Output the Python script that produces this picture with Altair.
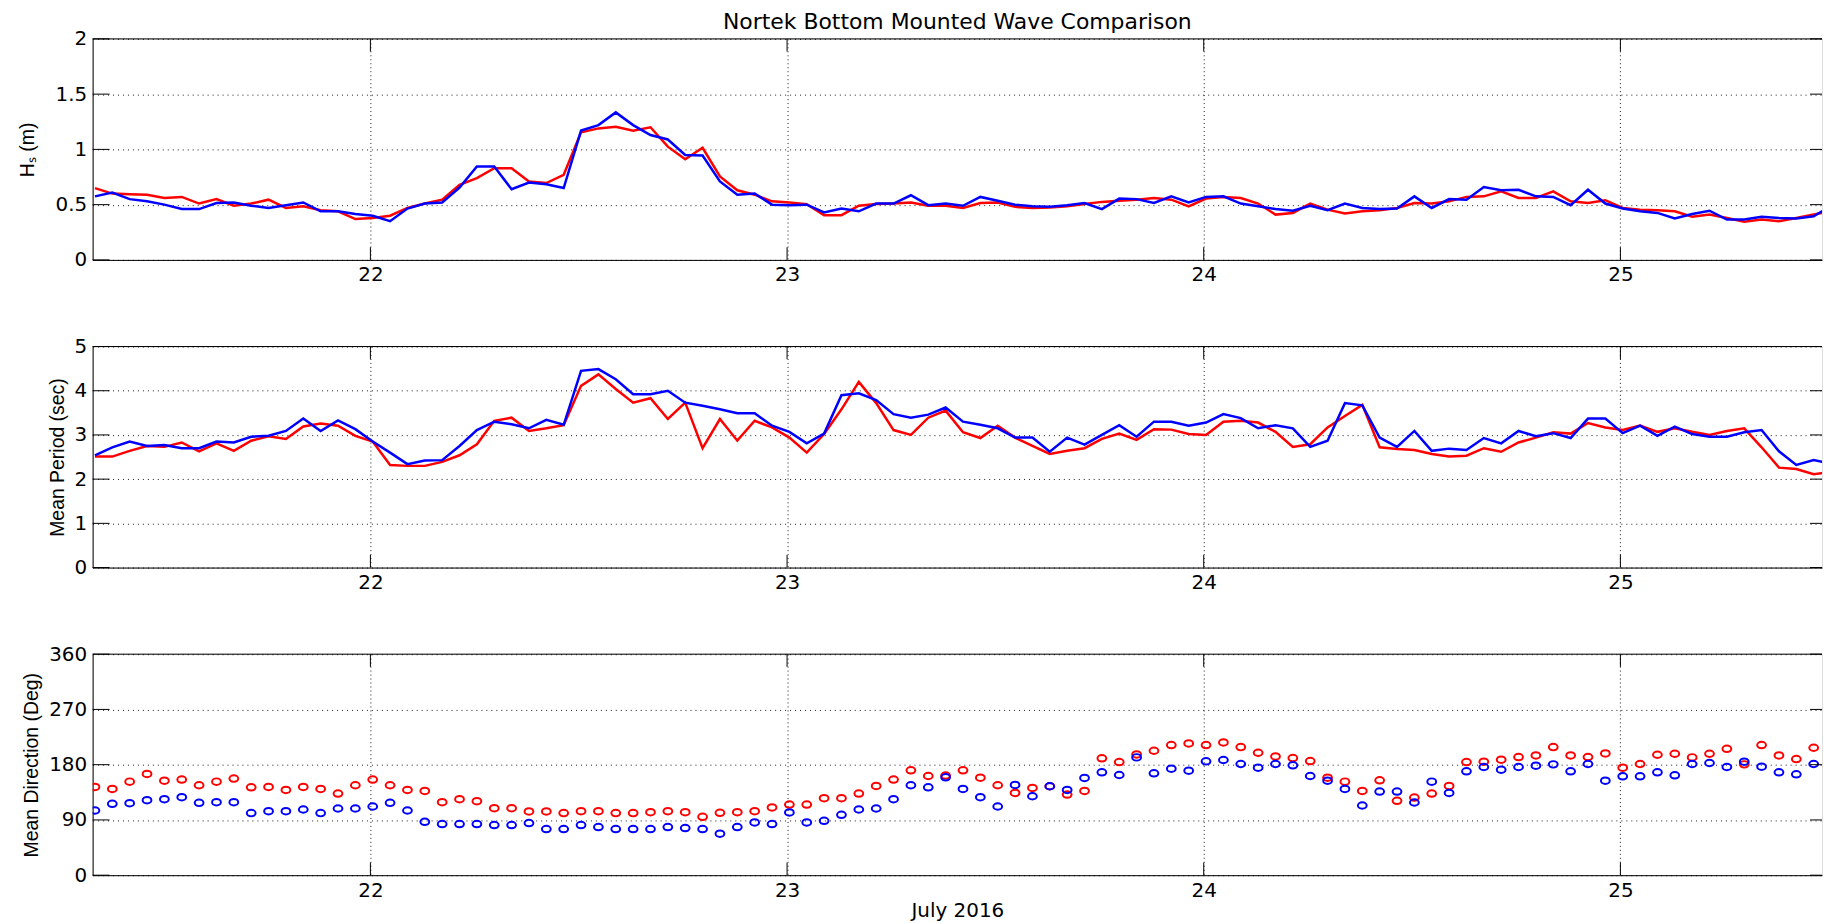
import altair as alt
import pandas as pd

# ---------------- data (hourly samples, July 2016, day-of-month) ----------------
START = 21 + 8 / 24 + 8 / 1440
N_LINE = 101
N_DIR = 100
TIMES = [START + i / 24 for i in range(N_LINE)]

HS_RED = [0.65, 0.60, 0.595, 0.59, 0.56, 0.57, 0.51, 0.55, 0.49, 0.51,
          0.545, 0.47, 0.485, 0.45, 0.44, 0.37, 0.38, 0.40, 0.47, 0.51,
          0.545, 0.68, 0.74, 0.83, 0.83, 0.71, 0.695, 0.77, 1.155, 1.19,
          1.205, 1.17, 1.20, 1.025, 0.91, 1.015, 0.755, 0.63, 0.59, 0.53,
          0.52, 0.505, 0.405, 0.405, 0.49, 0.505, 0.51, 0.52, 0.49, 0.49,
          0.47, 0.515, 0.52, 0.48, 0.47, 0.475, 0.485, 0.505, 0.525, 0.535,
          0.545, 0.56, 0.545, 0.485, 0.555, 0.57, 0.56, 0.51, 0.41, 0.425,
          0.51, 0.455, 0.42, 0.44, 0.45, 0.47, 0.515, 0.51, 0.53, 0.57,
          0.575, 0.62, 0.56, 0.56, 0.62, 0.53, 0.515, 0.54, 0.47, 0.455,
          0.45, 0.44, 0.39, 0.41, 0.38, 0.345, 0.365, 0.35, 0.38, 0.41,
          0.44]
HS_BLUE = [0.575, 0.61, 0.55, 0.53, 0.50, 0.46, 0.46, 0.515, 0.52, 0.49,
           0.47, 0.495, 0.52, 0.44, 0.44, 0.415, 0.40, 0.35, 0.465, 0.51,
           0.52, 0.655, 0.845, 0.845, 0.64, 0.70, 0.685, 0.65, 1.17, 1.22,
           1.335, 1.22, 1.13, 1.09, 0.95, 0.945, 0.71, 0.59, 0.60, 0.50,
           0.495, 0.50, 0.43, 0.465, 0.44, 0.51, 0.51, 0.585, 0.495, 0.51,
           0.49, 0.57, 0.535, 0.50, 0.485, 0.48, 0.495, 0.515, 0.46, 0.555,
           0.55, 0.515, 0.575, 0.52, 0.57, 0.575, 0.51, 0.485, 0.46, 0.445,
           0.49, 0.45, 0.51, 0.47, 0.46, 0.465, 0.575, 0.47, 0.55, 0.545,
           0.66, 0.63, 0.635, 0.575, 0.57, 0.495, 0.635, 0.51, 0.465, 0.44,
           0.425, 0.375, 0.415, 0.445, 0.365, 0.365, 0.39, 0.38, 0.375, 0.395,
           0.49]
TM_RED = [2.51, 2.51, 2.64, 2.75, 2.73, 2.83, 2.63, 2.81, 2.64, 2.87,
          2.97, 2.91, 3.19, 3.26, 3.21, 2.98, 2.85, 2.32, 2.30, 2.30,
          2.39, 2.54, 2.79, 3.32, 3.39, 3.09, 3.15, 3.22, 4.11, 4.37,
          4.04, 3.73, 3.83, 3.36, 3.73, 2.70, 3.36, 2.87, 3.32, 3.17,
          2.94, 2.60, 3.02, 3.58, 4.20, 3.72, 3.11, 3.00, 3.39, 3.55,
          3.06, 2.93, 3.21, 2.94, 2.75, 2.57, 2.64, 2.70, 2.91, 3.03,
          2.89, 3.13, 3.12, 3.02, 3.00, 3.30, 3.32, 3.28, 3.07, 2.73,
          2.79, 3.17, 3.43, 3.68, 2.72, 2.68, 2.66, 2.57, 2.51, 2.53,
          2.70, 2.62, 2.83, 2.94, 3.06, 3.03, 3.27, 3.17, 3.11, 3.21,
          3.07, 3.15, 3.07, 3.00, 3.09, 3.15, 2.72, 2.26, 2.23, 2.11,
          2.16]
TM_BLUE = [2.54, 2.72, 2.85, 2.75, 2.77, 2.70, 2.70, 2.85, 2.83, 2.96,
           2.98, 3.09, 3.37, 3.09, 3.33, 3.13, 2.85, 2.60, 2.34, 2.42,
           2.43, 2.75, 3.11, 3.30, 3.24, 3.15, 3.34, 3.23, 4.45, 4.49,
           4.26, 3.92, 3.92, 4.00, 3.73, 3.66, 3.58, 3.49, 3.49, 3.21,
           3.07, 2.81, 3.03, 3.90, 3.94, 3.79, 3.47, 3.39, 3.46, 3.62,
           3.30, 3.23, 3.15, 2.94, 2.94, 2.62, 2.94, 2.78, 3.00, 3.22,
           2.96, 3.30, 3.30, 3.21, 3.28, 3.47, 3.38, 3.15, 3.22, 3.15,
           2.73, 2.87, 3.72, 3.67, 2.94, 2.73, 3.09, 2.64, 2.69, 2.66,
           2.93, 2.81, 3.09, 2.97, 3.04, 2.93, 3.37, 3.37, 3.04, 3.21,
           2.98, 3.19, 3.02, 2.96, 2.96, 3.06, 3.11, 2.63, 2.32, 2.43,
           2.35]
DIR_RED = [143.8, 140.5, 152.4, 164.9, 154.0, 155.7, 146.5, 152.4, 157.3, 143.2,
           143.8, 138.9, 143.8, 140.5, 133.0, 146.5, 155.7, 146.5, 138.9, 137.3,
           118.9, 123.8, 120.5, 109.2, 109.2, 103.8, 103.8, 101.1, 104.3, 104.3,
           101.1, 101.1, 102.7, 104.3, 102.7, 95.1, 101.6, 102.7, 104.3, 110.3,
           115.1, 115.1, 125.4, 125.4, 133.0, 145.4, 155.7, 170.8, 161.6, 162.2,
           170.8, 158.9, 146.5, 134.0, 142.2, 144.9, 131.3, 137.3, 190.3, 184.3,
           196.7, 202.7, 211.9, 214.6, 211.9, 216.2, 208.6, 199.4, 193.5, 190.8,
           185.9, 158.9, 152.4, 137.3, 154.6, 121.1, 126.5, 133.0, 145.4, 184.3,
           184.9, 188.1, 192.4, 195.1, 208.6, 195.1, 192.4, 198.4, 175.1, 181.1,
           196.2, 197.8, 191.9, 197.8, 205.9, 180.5, 211.9, 195.1, 189.2, 207.6]
DIR_BLUE = [105.4, 116.2, 117.3, 122.2, 123.8, 127.0, 117.8, 118.9, 118.9, 101.1,
            104.3, 104.3, 107.0, 101.1, 108.6, 108.6, 111.9, 117.8, 105.4, 87.0,
            83.2, 83.2, 83.2, 81.6, 81.6, 84.9, 75.1, 75.1, 81.6, 78.4,
            75.1, 75.1, 75.1, 78.4, 76.8, 75.1, 67.6, 78.4, 85.9, 83.2,
            102.2, 85.9, 88.6, 98.4, 107.0, 108.6, 123.8, 146.5, 143.2, 159.4,
            140.5, 127.0, 111.9, 147.0, 128.6, 144.9, 138.9, 158.4, 167.6, 163.2,
            191.9, 165.9, 173.5, 170.3, 185.4, 187.6, 181.1, 175.1, 181.1, 178.9,
            161.6, 154.0, 140.5, 113.5, 136.2, 136.2, 118.4, 152.4, 134.0, 169.2,
            176.2, 171.9, 176.2, 178.4, 180.5, 169.2, 181.1, 154.0, 161.1, 161.1,
            167.6, 162.7, 181.1, 182.7, 176.2, 184.9, 176.7, 167.6, 164.3, 181.1]

X_TICKS = [22, 23, 24, 25]
Y1_TICKS = [0, 0.5, 1, 1.5, 2]
Y2_TICKS = [0, 1, 2, 3, 4, 5]
Y3_TICKS = [0, 90, 180, 270, 360]

TITLE = "Nortek Bottom Mounted Wave Comparison"
Y1_TITLE = "Hₛ (m)"
Y2_TITLE = "Mean Period (sec)"
Y3_TITLE = "Mean Direction (Deg)"
X_TITLE = "July 2016"

# ---------------- layout / style ----------------
W = 1737
H = 222
PX_PER_DAY = 418.5
X0 = 21 + 8 / 24
X1 = X0 + W / PX_PER_DAY
RED = "#ff0000"
BLUE = "#0000ff"
LABEL_FONT = "DejaVu Sans"
TITLE_FONT = "Liberation Sans"
ELLIPSE = "M-1,0A1,0.74,0,1,1,1,0A1,0.74,0,1,1,-1,0Z"

XS = alt.Scale(domain=[X0, X1], nice=False, zero=False)


def x_axis(title=None):
    kw = dict(values=X_TICKS, format="d", grid=True, gridColor="#000000",
              gridDash=[1, 3], gridWidth=1, gridOpacity=0.9, ticks=False,
              domain=True, domainColor="#000000", domainWidth=1,
              labelFont=LABEL_FONT, labelFontSize=20, labelColor="#000000",
              labelPadding=5, labelFlush=False)
    if title:
        kw.update(title=title, titleFont=LABEL_FONT, titleFontSize=20,
                  titleFontWeight="normal", titleColor="#000000", titlePadding=0)
    else:
        kw.update(title=None)
    return alt.Axis(**kw)


def y_axis(values, title, fmt, pad):
    return alt.Axis(values=values, format=fmt, grid=True, gridColor="#000000",
                    gridDash=[1, 4], gridWidth=1, gridOpacity=0.9, ticks=False,
                    domain=True, domainColor="#000000", domainWidth=1,
                    labelFont=LABEL_FONT, labelFontSize=20, labelColor="#000000",
                    labelPadding=6, labelFlush=False, title=title,
                    titleFont=TITLE_FONT, titleFontSize=19.5,
                    titleFontWeight="normal", titleColor="#000000",
                    titlePadding=pad)


def frame_layers(ys, yticks, xax, yax):
    tdf = pd.DataFrame({"v": yticks})
    xdf = pd.DataFrame({"t": X_TICKS})
    one = pd.DataFrame({"a": [0]})
    left = alt.Chart(tdf).mark_rule(color="black", strokeWidth=1).encode(
        y=alt.Y("v:Q", scale=ys, axis=yax), x=alt.value(0), x2=alt.value(17))
    right = alt.Chart(tdf).mark_rule(color="black", strokeWidth=1).encode(
        y=alt.Y("v:Q", scale=ys, axis=yax), x=alt.value(W - 12), x2=alt.value(W))
    top = alt.Chart(xdf).mark_rule(color="black", strokeWidth=1).encode(
        x=alt.X("t:Q", scale=XS, axis=xax), y=alt.value(0), y2=alt.value(12.7))
    bot = alt.Chart(xdf).mark_rule(color="black", strokeWidth=1).encode(
        x=alt.X("t:Q", scale=XS, axis=xax), y=alt.value(H - 12.7), y2=alt.value(H))
    border = alt.Chart(one).mark_rule(color="black", strokeWidth=1).encode(
        x=alt.value(0), x2=alt.value(W), y=alt.value(0))
    return [left, right, top, bot, border]


def line_panel(red, blue, ys, yticks, ytitle, fmt, pad, title=None):
    xax = x_axis()
    yax = y_axis(yticks, ytitle, fmt, pad)
    df = pd.DataFrame({"t": TIMES, "red": red, "blue": blue})
    base = alt.Chart(df)
    red_l = base.mark_line(color=RED, strokeWidth=2.5, clip=True).encode(
        x=alt.X("t:Q", scale=XS, axis=xax),
        y=alt.Y("red:Q", scale=ys, axis=yax))
    blue_l = base.mark_line(color=BLUE, strokeWidth=2.5, clip=True).encode(
        x=alt.X("t:Q", scale=XS, axis=xax),
        y=alt.Y("blue:Q", scale=ys, axis=yax))
    ch = alt.layer(red_l, blue_l, *frame_layers(ys, yticks, xax, yax))
    props = dict(width=W, height=H)
    if title:
        props["title"] = alt.TitleParams(title, font=LABEL_FONT, fontSize=22,
                                         fontWeight="normal", color="#000000",
                                         anchor="middle", offset=-5)
    return ch.properties(**props)


Y1S = alt.Scale(domain=[0, 2], nice=False, zero=False)
Y2S = alt.Scale(domain=[0, 5], nice=False, zero=False)
Y3S = alt.Scale(domain=[0, 360], nice=False, zero=False)

p1 = line_panel(HS_RED, HS_BLUE, Y1S, Y1_TICKS, Y1_TITLE, "~g", 18, title=TITLE)
p2 = line_panel(TM_RED, TM_BLUE, Y2S, Y2_TICKS, Y2_TITLE, "d", 7)

x3 = x_axis(X_TITLE)
y3 = y_axis(Y3_TICKS, Y3_TITLE, "d", 7)
ddf = pd.DataFrame({"t": TIMES[:N_DIR], "red": DIR_RED, "blue": DIR_BLUE})
dbase = alt.Chart(ddf)
red_p = dbase.mark_point(shape=ELLIPSE, filled=False, color=RED, size=78,
                         strokeWidth=2, opacity=1, clip=True).encode(
    x=alt.X("t:Q", scale=XS, axis=x3),
    y=alt.Y("red:Q", scale=Y3S, axis=y3))
blue_p = dbase.mark_point(shape=ELLIPSE, filled=False, color=BLUE, size=78,
                          strokeWidth=2, opacity=1, clip=True).encode(
    x=alt.X("t:Q", scale=XS, axis=x3),
    y=alt.Y("blue:Q", scale=Y3S, axis=y3))
p3 = alt.layer(red_p, blue_p, *frame_layers(Y3S, Y3_TICKS, x3, y3)).properties(width=W, height=H)

chart = alt.vconcat(p1, p2, p3, spacing=87, bounds="flush").properties(
    padding={"left": 8, "top": 0, "right": 0, "bottom": 0}
).configure_view(stroke=None).configure(background="white")

chart.save("out.html", embed_options={"renderer": "svg", "actions": False})
